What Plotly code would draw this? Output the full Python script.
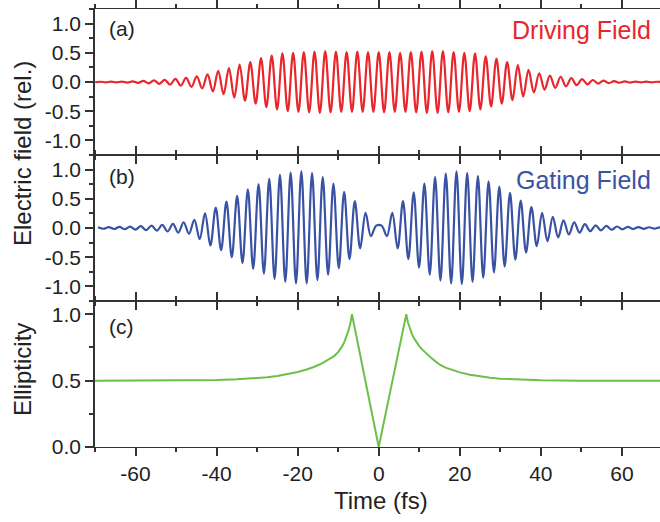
import numpy as np
import plotly.graph_objects as go

# ---------------- data ----------------
half_cycle = 1.32            # fs between successive field extrema

# (a) driving field: successive extrema, first one at t = -69.96 fs
red_first_t = -69.96
red_extrema = [
    -0.004, 0.004, -0.005, 0.006, -0.007, 0.008, -0.010, 0.012, -0.015, 0.018,
    -0.022, 0.027, -0.032, 0.038, -0.045, 0.053, -0.062, 0.072, -0.084, 0.097,
    -0.11, 0.13, -0.16, 0.19, -0.21, 0.24, -0.27, 0.30, -0.32, 0.34,
    -0.37, 0.41, -0.43, 0.45, -0.47, 0.49, -0.50, 0.50, -0.51, 0.51,
    -0.52, 0.52, -0.53, 0.53, -0.52, 0.52, -0.51, 0.51, -0.51, 0.52,
    -0.51, 0.51, -0.51, 0.51,
    -0.52, 0.51, -0.51, 0.50, -0.51, 0.51, -0.52, 0.52, -0.53, 0.53,
    -0.53, 0.53, -0.52, 0.51, -0.51, 0.50, -0.50, 0.49, -0.47, 0.44,
    -0.42, 0.40, -0.37, 0.34, -0.31, 0.29, -0.25, 0.21, -0.18, 0.15,
    -0.13, 0.11, -0.10, 0.09, -0.075, 0.065, -0.055, 0.048, -0.040, 0.034,
    -0.028, 0.023, -0.019, 0.016, -0.013, 0.011, -0.009, 0.008, -0.007, 0.006,
    -0.005, 0.004, -0.004,
]

# (b) gating field: successive extrema, first one at t = -69.25 fs
blue_first_t = -69.25
blue_extrema = [
    0.012, -0.013, 0.015, -0.017, 0.019, -0.021, 0.024, -0.027, 0.031, -0.035,
    0.040, -0.046, 0.053, -0.060, 0.070, -0.080, 0.095, -0.10, 0.14, -0.19,
    0.25, -0.30, 0.35, -0.38, 0.45, -0.50, 0.55, -0.60, 0.66, -0.70,
    0.75, -0.78, 0.84, -0.87, 0.91, -0.92, 0.95, -0.95, 0.97, -0.95,
    0.94, -0.89, 0.87, -0.80, 0.76, -0.69, 0.62, -0.53, 0.46, -0.35,
    0.26, -0.14, 0.04, 0.04, -0.14, 0.26, -0.35, 0.46, -0.53, 0.61,
    -0.68, 0.76, -0.80, 0.87, -0.90, 0.93, -0.95, 0.97, -0.96, 0.94,
    -0.92, 0.89, -0.85, 0.80, -0.76, 0.71, -0.66, 0.60, -0.54, 0.47,
    -0.42, 0.36, -0.31, 0.26, -0.23, 0.19, -0.16, 0.13, -0.11, 0.095,
    -0.080, 0.065, -0.055, 0.046, -0.040, 0.035, -0.030, 0.026, -0.023, 0.020,
    -0.018, 0.016, -0.014, 0.013, -0.012, 0.011, -0.010,
]

# (c) ellipticity
ell_t = [-70, -60, -50, -40, -35, -30, -27.5, -25, -22.5, -20, -18, -16, -14, -12,
         -11, -10, -9.5, -9, -8.5, -8, -7.5, -7, -6.6, 0,
         6.8, 7.2, 7.7, 8.2, 8.7, 9.3, 10.0, 10.9, 11.8, 12.7, 14.0, 15.2, 16.5, 18.0,
         20.0, 22.5, 25.0, 27.5, 30.0, 35.0, 40.0, 50.0, 60.0, 70.0]
ell_v = [0.5, 0.5, 0.501, 0.505, 0.51, 0.518, 0.525, 0.535, 0.548, 0.565, 0.582, 0.603, 0.63, 0.665,
         0.685, 0.715, 0.735, 0.76, 0.79, 0.83, 0.875, 0.93, 1.0, 0.0,
         1.0, 0.94, 0.89, 0.85, 0.82, 0.79, 0.76, 0.73, 0.70, 0.678, 0.645, 0.618, 0.598, 0.58,
         0.562, 0.545, 0.533, 0.522, 0.515, 0.507, 0.503, 0.5, 0.5, 0.5]

x_ticks = [-60, -40, -20, 0, 20, 40, 60]
x_ticklabels = ["-60", "-40", "-20", "0", "20", "40", "60"]
x_minor = [-70, -50, -30, -10, 10, 30, 50]
field_ticks = [-1.0, -0.5, 0.0, 0.5, 1.0]
field_ticklabels = ["-1.0", "-0.5", "0.0", "0.5", "1.0"]
field_minor = [-1.25, -0.75, -0.25, 0.25, 0.75, 1.25]
ell_ticks = [0.0, 0.5, 1.0]
ell_ticklabels = ["0.0", "0.5", "1.0"]
ell_minor = [0.25, 0.75]

# ---------------- figure ----------------
RED = "#E8262B"
BLUE = "#3A52A4"
GREEN = "#6CC04A"
AX = "#333333"
FONT = "Liberation Sans, Arial, sans-serif"

red_t = red_first_t + half_cycle * np.arange(len(red_extrema))
blue_t = blue_first_t + half_cycle * np.arange(len(blue_extrema))

fig = go.Figure()
fig.add_trace(go.Scatter(x=red_t, y=red_extrema, mode="lines", xaxis="x3", yaxis="y3",
                         line=dict(color=RED, width=2.2, shape="spline", smoothing=1.0)))
fig.add_trace(go.Scatter(x=blue_t, y=blue_extrema, mode="lines", xaxis="x2", yaxis="y2",
                         line=dict(color=BLUE, width=2.2, shape="spline", smoothing=1.0)))
fig.add_trace(go.Scatter(x=ell_t, y=ell_v, mode="lines", xaxis="x", yaxis="y",
                         line=dict(color=GREEN, width=2)))

xcommon = dict(range=[-70, 69.4], showgrid=False, zeroline=False, showline=True,
               linecolor=AX, linewidth=1, mirror="allticks", ticks="outside",
               ticklen=8, tickwidth=1.5, tickcolor=AX, tickmode="array",
               tickvals=x_ticks, ticktext=x_ticklabels,
               minor=dict(ticks="outside", ticklen=4, tickwidth=1.5, tickcolor=AX,
                          tickmode="array", tickvals=x_minor),
               tickfont=dict(family=FONT, size=21, color="#222"))
ycommon = dict(showgrid=False, zeroline=False, showline=True, linecolor=AX, linewidth=1.5,
               mirror=False, ticks="outside", ticklen=8, tickwidth=1.5, tickcolor=AX,
               tickmode="array", tickfont=dict(family=FONT, size=21, color="#222"))

fig.update_layout(
    width=660, height=522,
    margin=dict(l=95, r=0, t=9, b=75),
    paper_bgcolor="white", plot_bgcolor="rgba(0,0,0,0)",
    showlegend=False,
    xaxis=dict(**xcommon, anchor="y", domain=[0, 1]),
    xaxis2=dict(**xcommon, anchor="y2", matches="x", showticklabels=False, domain=[0, 1]),
    xaxis3=dict(**xcommon, anchor="y3", matches="x", showticklabels=False, domain=[0, 1]),
    yaxis=dict(**ycommon, anchor="x", domain=[0, 1/3], range=[0, 1.1],
               tickvals=ell_ticks, ticktext=ell_ticklabels,
               minor=dict(ticks="outside", ticklen=4, tickwidth=1.5, tickcolor=AX,
                          tickmode="array", tickvals=ell_minor)),
    yaxis2=dict(**ycommon, anchor="x2", domain=[1/3, 2/3], range=[-1.25, 1.25],
                tickvals=field_ticks, ticktext=field_ticklabels,
                minor=dict(ticks="outside", ticklen=4, tickwidth=1.5, tickcolor=AX,
                           tickmode="array", tickvals=field_minor)),
    yaxis3=dict(**ycommon, anchor="x3", domain=[2/3, 1], range=[-1.25, 1.25],
                tickvals=field_ticks, ticktext=field_ticklabels,
                minor=dict(ticks="outside", ticklen=4, tickwidth=1.5, tickcolor=AX,
                           tickmode="array", tickvals=field_minor)),
)

def note(text, x, xshift, xanchor, yshift, size, color="#222", angle=0):
    fig.add_annotation(text=text, xref="paper", yref="paper", x=x, y=1,
                       xshift=xshift, yshift=yshift, xanchor=xanchor, yanchor="middle",
                       showarrow=False, textangle=angle,
                       font=dict(family=FONT, size=size, color=color))

note("(a)", 0, 12, "left", -19.7, 21)
note("(b)", 0, 12, "left", -167, 21)
note("(c)", 0, 12, "left", -317.6, 21)
note("Driving Field", 1, -7, "right", -20.5, 25, RED)
note("Gating Field", 1, -7, "right", -171, 25, BLUE)
note("Electric field (rel.)", 0, -73, "center", -145, 24, angle=-90)
note("Ellipticity", 0, -73, "center", -361, 24, angle=-90)
fig.add_annotation(text="Time (fs)", xref="paper", yref="paper", x=0.5, y=0,
                   xshift=3.5, yshift=-53, xanchor="center", yanchor="middle",
                   showarrow=False, font=dict(family=FONT, size=24, color="#222"))

fig.write_html("out.html")
